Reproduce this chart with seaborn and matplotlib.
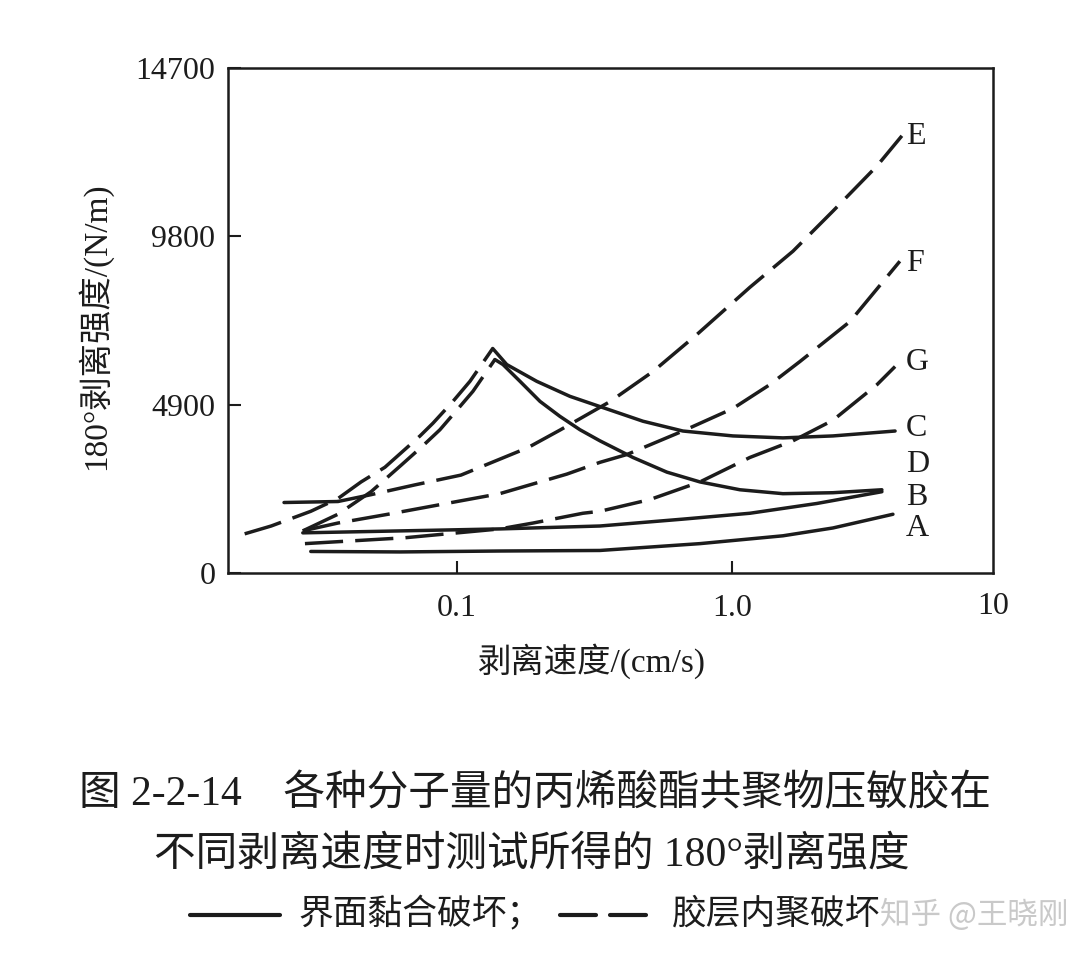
import matplotlib
matplotlib.use('Agg')
import matplotlib.pyplot as plt
from matplotlib.lines import Line2D
import seaborn as sns

# peel speed (cm/s) and 180 deg peel strength (N/m)
speed_a = [0.0294, 0.062, 0.143, 0.331, 0.765, 1.533, 2.33, 3.85]
peel_a = [627, 613, 640, 656, 855, 1083, 1311, 1710]

speed_b = [0.0275, 0.0626, 0.143, 0.331, 0.663, 1.162, 2.037, 3.51]
peel_b = [1169, 1226, 1283, 1368, 1568, 1739, 2024, 2366]

# C and D: cohesive failure (dashed) up to the peak, interfacial (solid) after it
speed_c_rise = [0.0169, 0.0211, 0.0294, 0.0369, 0.0448, 0.0547, 0.0734, 0.0818, 0.0967,
                0.1115, 0.1349]
peel_c_rise = [1140, 1368, 1796, 2166, 2651, 3078, 3990, 4361, 4996, 5580, 6535]
speed_c_fall = [0.1349, 0.1517, 0.195, 0.2576, 0.331, 0.4746, 0.663, 1.008, 1.533, 2.33, 3.92]
peel_c_fall = [6535, 6068, 5580, 5142, 4845, 4418, 4133, 3990, 3933, 3990, 4133]

speed_d_rise = [0.0275, 0.0369, 0.0487, 0.0626, 0.0752, 0.0867, 0.1025, 0.1143, 0.1374]
peel_d_rise = [1226, 1710, 2366, 3135, 3705, 4170, 4845, 5288, 6214]
speed_d_fall = [0.1374, 0.147, 0.1695, 0.2004, 0.2368, 0.2801, 0.331, 0.4365, 0.580,
                0.765, 1.069, 1.533, 2.33, 3.51]
peel_d_fall = [6214, 6068, 5580, 4996, 4560, 4170, 3848, 3363, 2936,
               2651, 2423, 2309, 2337, 2423]

# E: short interfacial part at low speed, then cohesive
speed_e_low = [0.0235, 0.0369]
peel_e_low = [2052, 2081]
speed_e_high = [0.0369, 0.0487, 0.0703, 0.1034, 0.181, 0.237, 0.360, 0.516, 0.746,
                1.162, 1.667, 2.33, 3.37, 4.15]
peel_e_high = [2081, 2280, 2565, 2850, 3648, 4161, 4988, 5864, 6944,
               8316, 9367, 10535, 11850, 12726]

speed_f = [0.0275, 0.0369, 0.0561, 0.0875, 0.143, 0.251, 0.331, 0.415, 0.663, 1.008,
           1.374, 1.767, 2.69, 4.08]
peel_f = [1226, 1454, 1710, 1995, 2309, 2879, 3221, 3449, 4133, 4788,
          5484, 6156, 7323, 9075]

speed_g = [0.028, 0.0647, 0.143, 0.189, 0.287, 0.331, 0.503, 0.765, 1.162, 1.667,
           2.33, 3.37, 3.92]
peel_g = [855, 1026, 1283, 1454, 1739, 1796, 2138, 2651, 3363, 3848,
          4446, 5484, 6010]

curve_names = ['E', 'F', 'G', 'C', 'D', 'B', 'A']
name_peel = [12700, 9017, 6126, 4218, 3164, 2195, 1283]
name_speed = 4.3

y_ticks = [0, 4900, 9800, 14700]
x_ticks = [0.1, 1.0]
x_tick_labels = ['0.1', '1.0']

ink = '#1c1c1c'

sns.set_style('ticks')
plt.rcParams['font.family'] = ['Liberation Serif', 'Noto Sans CJK SC']

W, H = 1089, 974
fig = plt.figure(figsize=(W / 100, H / 100), dpi=100)
ax = fig.add_axes([228 / W, 1 - 573 / H, 765 / W, 505 / H])
ax.set_xscale('log')


def draw(xs, ys, dashed):
    sns.lineplot(x=xs, y=ys, ax=ax, color=ink, lw=2.5, sort=False, estimator=None)
    if dashed:
        ax.lines[-1].set_dashes([11, 3.5])


draw(speed_a, peel_a, False)
draw(speed_b, peel_b, False)
draw(speed_c_rise, peel_c_rise, True)
draw(speed_c_fall, peel_c_fall, False)
draw(speed_d_rise, peel_d_rise, True)
draw(speed_d_fall, peel_d_fall, False)
draw(speed_e_low, peel_e_low, False)
draw(speed_e_high, peel_e_high, True)
draw(speed_f, peel_f, True)
draw(speed_g, peel_g, True)

for name, p in zip(curve_names, name_peel):
    ax.text(name_speed, p, name, fontsize=23, color=ink, ha='left', va='center')

ax.set_xlim(0.0147, 8.9)
ax.set_ylim(0, 14700)
ax.set_xticks(x_ticks)
ax.set_xticklabels(x_tick_labels)
ax.xaxis.set_minor_locator(matplotlib.ticker.NullLocator())
ax.set_yticks(y_ticks)
ax.set_yticklabels([str(v) for v in y_ticks])
ax.tick_params(direction='in', length=9, width=1.5, labelsize=23, colors=ink)
ax.tick_params(axis='x', pad=15)
ax.tick_params(axis='y', pad=9)
ax.text(1.0, -0.0673, '10', transform=ax.transAxes, fontsize=23, color=ink,
        ha='center', va='center')
for s in ax.spines.values():
    s.set_visible(True)
    s.set_linewidth(1.8)
    s.set_color(ink)

ax.set_xlabel('剥离速度/(cm/s)', fontsize=24, color=ink)
ax.xaxis.set_label_coords(0.476, -0.14)
fig.text(94 / W, 1 - 326 / H, '180°剥离强度/(N/m)', rotation=90, fontsize=24,
         color=ink, ha='center', va='center')

# caption
fig.text(535 / W, 1 - 795 / H, '图 2-2-14\u3000各种分子量的丙烯酸酯共聚物压敏胶在',
         fontsize=30, color=ink, ha='center', va='center')
fig.text(532 / W, 1 - 855 / H, '不同剥离速度时测试所得的 180°剥离强度',
         fontsize=30, color=ink, ha='center', va='center')
fig.add_artist(Line2D([190 / W, 280 / W], [1 - 915 / H] * 2, transform=fig.transFigure,
                      color=ink, lw=3))
fig.text(298 / W, 1 - 915 / H, '界面黏合破坏；', fontsize=25, color=ink, va='center')
fig.add_artist(Line2D([560 / W, 596 / W], [1 - 915 / H] * 2, transform=fig.transFigure,
                      color=ink, lw=3))
fig.add_artist(Line2D([610 / W, 646 / W], [1 - 915 / H] * 2, transform=fig.transFigure,
                      color=ink, lw=3))
fig.text(672 / W, 1 - 915 / H, '胶层内聚破坏', fontsize=25, color=ink, va='center')
fig.text(880 / W, 1 - 915 / H, '知乎 @王晓刚', fontsize=22, color='#c4c4c4', va='center',
         family=['Noto Sans CJK SC', 'DejaVu Sans'], alpha=0.9)

fig.savefig('out.png', dpi=100, facecolor='white')
